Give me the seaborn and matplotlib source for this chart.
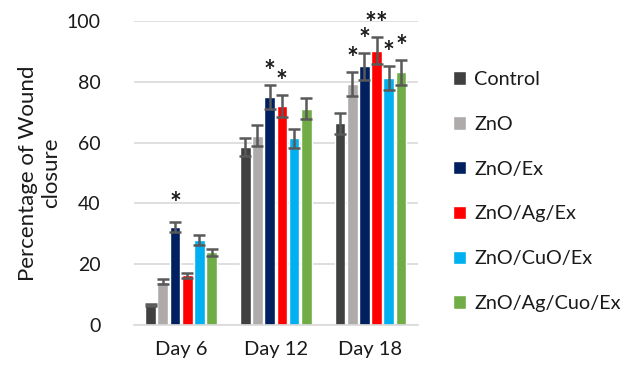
import matplotlib
matplotlib.use("Agg")
import matplotlib.pyplot as plt
import seaborn as sns
import pandas as pd
import numpy as np

days = ["Day 6", "Day 12", "Day 18"]
groups = ["Control", "ZnO", "ZnO/Ex", "ZnO/Ag/Ex", "ZnO/CuO/Ex", "ZnO/Ag/Cuo/Ex"]
colors = ["#404040", "#AFABAB", "#002060", "#FF0000", "#00B0F0", "#70AD47"]

# mean wound closure (%) per group, ordered Day 6, Day 12, Day 18
control = [6.8, 58.5, 66.3]
zno = [14.3, 62.3, 79.2]
zno_ex = [32.2, 75.0, 85.0]
zno_ag_ex = [16.4, 72.1, 90.2]
zno_cuo_ex = [27.9, 61.4, 81.2]
zno_ag_cuo_ex = [24.0, 71.1, 83.1]

# standard deviation per group
control_err = [0.3, 3.0, 3.4]
zno_err = [0.8, 3.3, 4.0]
zno_ex_err = [1.6, 3.9, 4.4]
zno_ag_ex_err = [0.9, 3.6, 4.5]
zno_cuo_ex_err = [1.6, 3.1, 4.0]
zno_ag_cuo_ex_err = [1.2, 3.5, 4.1]

means = [control, zno, zno_ex, zno_ag_ex, zno_cuo_ex, zno_ag_cuo_ex]
errs = [control_err, zno_err, zno_ex_err, zno_ag_ex_err, zno_cuo_ex_err, zno_ag_cuo_ex_err]

# significance marks: (day index, group index, label)
stars = [(0, 2, "*"), (1, 2, "*"), (1, 3, "*"),
         (2, 1, "*"), (2, 2, "*"), (2, 3, "**"), (2, 4, "*"), (2, 5, "*")]

rows = []
for g, vals in zip(groups, means):
    for d, v in zip(days, vals):
        rows.append({"Day": d, "Group": g, "Value": v})
df = pd.DataFrame(rows)

sns.set_theme(style="white")
plt.rcParams["font.family"] = ["Lato", "DejaVu Sans"]

fig = plt.figure(figsize=(6.34, 3.69), dpi=100)
ax = fig.add_axes([0.211, 0.1184, 0.448, 0.8256])

sns.barplot(data=df, x="Day", y="Value", hue="Group", order=days, hue_order=groups,
            palette=colors, width=0.774, gap=0.12, errorbar=None, saturation=1,
            ax=ax, zorder=2)

bar_containers = list(ax.containers)
tops = {}
for gi, cont in enumerate(bar_containers):
    xs = [b.get_x() + b.get_width() / 2 for b in cont]
    ax.errorbar(xs, means[gi], yerr=errs[gi], fmt="none", ecolor="#595959",
                elinewidth=1.8, capsize=4.3, capthick=1.8, zorder=3)
    for di, x in enumerate(xs):
        tops[(di, gi)] = (x, means[gi][di] + errs[gi][di])

for di, gi, lab in stars:
    x, top = tops[(di, gi)]
    off = 6.0 if di == 0 else 4.2
    ax.text(x, top + off, lab, ha="center", va="center", fontsize=20,
            fontweight="bold", color="#1a1a1a", clip_on=False, zorder=4)

ax.set_ylim(0, 100)
ax.set_xlim(-0.5, 2.5)
ax.set_yticks([0, 20, 40, 60, 80, 100])
ax.yaxis.grid(True, color="#D9D9D9", linewidth=1.2, zorder=0)
ax.set_axisbelow(True)
for s in ["top", "right", "left"]:
    ax.spines[s].set_visible(False)
ax.spines["bottom"].set_color("#D9D9D9")
ax.spines["bottom"].set_linewidth(1.2)
ax.tick_params(axis="both", length=0, colors="#1a1a1a")
ax.tick_params(axis="y", pad=24, labelsize=14)
ax.tick_params(axis="x", pad=11, labelsize=14.5)
ax.set_xlabel("")
ax.set_ylabel("Percentage of Wound\nclosure", fontsize=16, color="#1a1a1a",
              labelpad=4, linespacing=1.2)

handles, labels = ax.get_legend_handles_labels()
ax.legend(handles, labels, loc="center left", bbox_to_anchor=(1.06, 0.439),
          frameon=False, fontsize=14.3, handlelength=0.66, handleheight=0.66,
          handletextpad=0.42, labelspacing=1.4, labelcolor="#1a1a1a")

fig.savefig("out.png", dpi=100)
